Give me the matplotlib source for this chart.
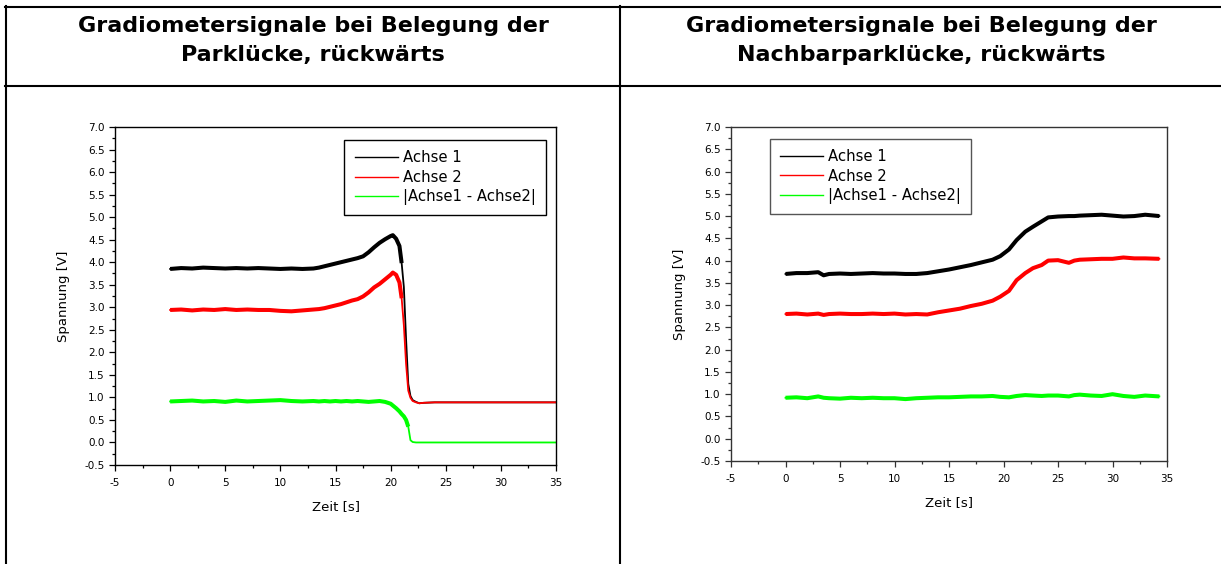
import matplotlib
matplotlib.use("Agg")
import matplotlib.pyplot as plt
from matplotlib.lines import Line2D
from matplotlib.ticker import MultipleLocator, FormatStrFormatter
import numpy as np

plt.rcParams['font.family'] = ['DejaVu Sans']
plt.rcParams['axes.unicode_minus'] = False

# Header texts
titles = ["Gradiometersignale bei Belegung der\nParklücke, rückwärts",
          "Gradiometersignale bei Belegung der\nNachbarparklücke, rückwärts"]
labels = ["Achse 1", "Achse 2", "|Achse1 - Achse2|"]
x_label = "Zeit [s]"
y_label = "Spannung [V]"

# Left panel: Parklücke
t_left = [0, 1, 2, 3, 4, 5, 6, 7, 8, 9, 10, 11, 12, 13, 13.5, 14, 14.5, 15, 15.5, 16,
          16.5, 17, 17.5, 18, 18.5, 19, 19.5, 20, 20.2, 20.5, 20.8, 21.0, 21.2, 21.4,
          21.6, 21.8, 22.0, 22.3, 22.6, 23, 24, 26, 28, 30, 32, 35]
achse1_left = [3.85, 3.87, 3.86, 3.88, 3.87, 3.86, 3.87, 3.86, 3.87, 3.86, 3.85, 3.86,
               3.85, 3.86, 3.88, 3.91, 3.94, 3.97, 4.00, 4.03, 4.06, 4.09, 4.13, 4.22,
               4.33, 4.43, 4.51, 4.58, 4.60, 4.52, 4.36, 3.98, 3.45, 2.30, 1.30, 1.03,
               0.94, 0.90, 0.87, 0.88, 0.89, 0.89, 0.89, 0.89, 0.89, 0.89]
achse2_left = [2.94, 2.95, 2.93, 2.95, 2.94, 2.96, 2.94, 2.95, 2.94, 2.94, 2.92, 2.91,
               2.93, 2.95, 2.96, 2.98, 3.01, 3.04, 3.07, 3.11, 3.15, 3.18, 3.24, 3.33,
               3.44, 3.52, 3.62, 3.72, 3.77, 3.72, 3.55, 3.20, 2.60, 1.75, 1.15, 0.99,
               0.92, 0.89, 0.87, 0.88, 0.89, 0.89, 0.89, 0.89, 0.89, 0.89]
diff_left = [0.91, 0.92, 0.93, 0.91, 0.92, 0.90, 0.93, 0.91, 0.92, 0.93, 0.94, 0.92,
             0.91, 0.92, 0.91, 0.92, 0.91, 0.92, 0.91, 0.92, 0.91, 0.92, 0.91, 0.90,
             0.91, 0.92, 0.90, 0.86, 0.82, 0.76, 0.69, 0.63, 0.58, 0.50, 0.35, 0.05,
             0.01, 0.0, 0.0, 0.0, 0.0, 0.0, 0.0, 0.0, 0.0, 0.0]

# Right panel: Nachbarparklücke
t_right = [0, 1, 2, 3, 3.5, 4, 5, 6, 7, 8, 9, 10, 11, 12, 13, 14, 15, 16, 17, 18, 19,
           19.7, 20.5, 21.2, 22, 22.7, 23.5, 24.1, 25, 26, 26.5, 27, 28, 29, 30, 31,
           32, 33, 34.3]
achse1_right = [3.70, 3.72, 3.72, 3.74, 3.67, 3.70, 3.71, 3.70, 3.71, 3.72, 3.71, 3.71,
                3.70, 3.70, 3.72, 3.76, 3.80, 3.85, 3.90, 3.96, 4.02, 4.10, 4.25, 4.46,
                4.65, 4.76, 4.88, 4.97, 4.99, 5.00, 5.00, 5.01, 5.02, 5.03, 5.01, 4.99,
                5.00, 5.03, 5.00]
achse2_right = [2.80, 2.81, 2.79, 2.81, 2.78, 2.80, 2.81, 2.80, 2.80, 2.81, 2.80, 2.81,
                2.79, 2.80, 2.79, 2.84, 2.88, 2.92, 2.98, 3.03, 3.10, 3.19, 3.32, 3.56,
                3.72, 3.83, 3.90, 4.00, 4.01, 3.95, 4.00, 4.02, 4.03, 4.04, 4.04, 4.07,
                4.05, 4.05, 4.04]
diff_right = [0.92, 0.93, 0.91, 0.95, 0.92, 0.91, 0.90, 0.92, 0.91, 0.92, 0.91, 0.91,
              0.89, 0.91, 0.92, 0.93, 0.93, 0.94, 0.95, 0.95, 0.96, 0.94, 0.93, 0.96,
              0.98, 0.97, 0.96, 0.97, 0.97, 0.95, 0.98, 0.99, 0.97, 0.96, 1.00, 0.96,
              0.94, 0.97, 0.95]

colors = ["#000000", "#ff0000", "#00ff00"]

W, H = 1221, 564
fig = plt.figure(figsize=(W / 100, H / 100), dpi=100)


def px(x0, y0, x1, y1):
    # pixel box -> figure fraction rect
    return [x0 / W, 1 - y1 / H, (x1 - x0) / W, (y1 - y0) / H]


# table frame
lw_tab = 1.5
def hline(y, x0, x1):
    fig.add_artist(Line2D([x0 / W, x1 / W], [1 - y / H, 1 - y / H], color="black", lw=lw_tab))
def vline(x, y0, y1):
    fig.add_artist(Line2D([x / W, x / W], [1 - y0 / H, 1 - y1 / H], color="black", lw=lw_tab))

hline(7, 5, W)
hline(86, 5, W)
vline(6, 6, H)
vline(620, 6, H)

# headers
for cx, title in zip([313, 921], titles):
    l1, l2 = title.split("\n")
    fig.text(cx / W, 1 - 32 / H, l1, ha="center", va="baseline", fontsize=16, fontweight="bold")
    fig.text(cx / W, 1 - 61 / H, l2, ha="center", va="baseline", fontsize=16, fontweight="bold")

panels = [
    (px(115, 127, 556, 465), t_left, [achse1_left, achse2_left, diff_left],
     [21.0, 21.0, 21.6], "black", "black", dict(loc="upper right", bbox_to_anchor=(0.977, 0.961))),
    (px(731, 127, 1167, 461), t_right, [achse1_right, achse2_right, diff_right],
     [40, 40, 40], "#333333", "#555555", dict(loc="upper left", bbox_to_anchor=(0.089, 0.964))),
]

for rect, t, series, cuts, spine_col, leg_col, leg_pos in panels:
    ax = fig.add_axes(rect)
    t = np.array(t)
    for ys, col, cut in zip(series, colors, cuts):
        ys = np.array(ys)
        ax.plot(t, ys, color=col, lw=1.3)
        m = t <= cut
        ax.plot(t[m], ys[m], color=col, lw=2.9, solid_joinstyle="round", solid_capstyle="butt")
    ax.set_xlim(-5, 35)
    ax.set_ylim(-0.5, 7.0)
    ax.xaxis.set_major_locator(MultipleLocator(5))
    ax.xaxis.set_minor_locator(MultipleLocator(2.5))
    ax.yaxis.set_major_locator(MultipleLocator(0.5))
    ax.yaxis.set_minor_locator(MultipleLocator(0.25))
    ax.yaxis.set_major_formatter(FormatStrFormatter("%.1f"))
    ax.xaxis.set_major_formatter(FormatStrFormatter("%d"))
    ax.tick_params(which="both", direction="out", top=False, right=False, width=0.9,
                   colors=spine_col, labelcolor="black")
    ax.tick_params(which="major", length=4, labelsize=7.5)
    ax.tick_params(axis="y", which="major", pad=3.5)
    ax.tick_params(axis="x", which="major", pad=5.5)
    ax.tick_params(which="minor", length=2.4)
    for s in ax.spines.values():
        s.set_linewidth(1.0)
        s.set_color(spine_col)
    ax.set_xlabel(x_label, fontsize=9.5, labelpad=8.5)
    ax.set_ylabel(y_label, fontsize=9.5, labelpad=10.5)
    handles = [Line2D([], [], color=c, lw=1.0) for c in colors]
    leg = ax.legend(handles, labels, fontsize=10.7, frameon=True, fancybox=False, framealpha=1,
                    edgecolor=leg_col, borderaxespad=0, handlelength=2.9,
                    handletextpad=0.35, labelspacing=0.3, borderpad=0.68, **leg_pos)
    leg.get_frame().set_linewidth(1.0)

fig.savefig("out.png", dpi=100)
